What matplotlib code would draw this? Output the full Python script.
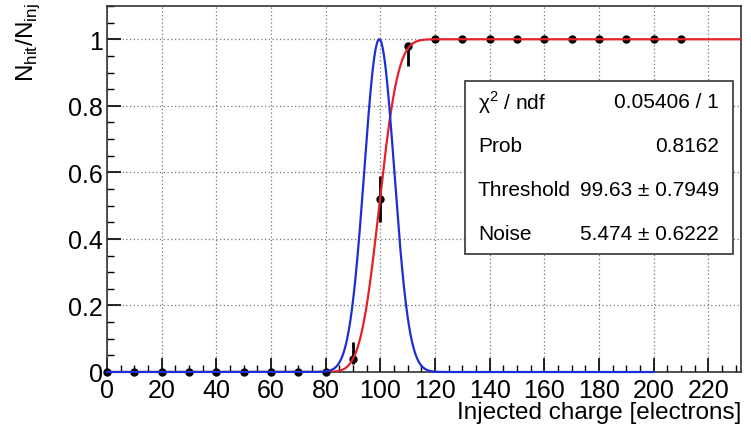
import numpy as np
import matplotlib
matplotlib.use("Agg")
import matplotlib.pyplot as plt
from matplotlib.patches import Rectangle
from matplotlib.ticker import MultipleLocator
from math import erf

plt.rcParams['font.family'] = ['Liberation Sans', 'DejaVu Sans']
plt.rcParams['mathtext.fontset'] = 'custom'
plt.rcParams['mathtext.rm'] = 'Liberation Sans'

# measured points
charge = [0, 10, 20, 30, 40, 50, 60, 70, 80, 90, 100, 110,
          120, 130, 140, 150, 160, 170, 180, 190, 200, 210]
frac = [0, 0, 0, 0, 0, 0, 0, 0, 0, 0.04, 0.52, 0.98,
        1, 1, 1, 1, 1, 1, 1, 1, 1, 1]
err_lo = [0, 0, 0, 0, 0, 0, 0, 0, 0, 0.015, 0.07, 0.06,
          0, 0, 0, 0, 0, 0, 0, 0, 0, 0]
err_hi = [0, 0, 0, 0, 0, 0, 0, 0, 0, 0.05, 0.07, 0.0,
          0, 0, 0, 0, 0, 0, 0, 0, 0, 0]

# fit result (s-curve)
threshold = 99.63
noise = 5.474
stats_names = [r"χ$^{\mathregular{2}}$ / ndf", "Prob", "Threshold", "Noise"]
stats_vals = ["0.05406 / 1", "0.8162", "99.63 ± 0.7949", "5.474 ± 0.6222"]

fig = plt.figure(figsize=(7.51, 4.27), dpi=100)
W, H = 751, 427
ax = fig.add_axes([107 / W, 1 - 373 / H, (741 - 107) / W, (373 - 7) / H])

# fit curves
xs = np.linspace(0, 232, 1200)
scurve = [0.5 * (1 + erf((x - threshold) / (np.sqrt(2) * noise))) for x in xs]
xg = np.linspace(0, 200, 1000)
gaus = np.exp(-0.5 * ((xg - threshold) / noise) ** 2)

ax.errorbar(charge, frac, yerr=[err_lo, err_hi], fmt='o', color='black',
            markersize=5, elinewidth=2, capsize=0, zorder=3, clip_on=False)
ax.plot(xs, scurve, color='#e5202a', linewidth=1.6, zorder=4)
ax.plot(xg, gaus, color='#1c2fd6', linewidth=1.6, zorder=5, clip_on=False)

ax.set_xlim(0, 232)
ax.set_ylim(0, 1.1)
ax.xaxis.set_major_locator(MultipleLocator(20))
ax.xaxis.set_minor_locator(MultipleLocator(5))
ax.yaxis.set_major_locator(MultipleLocator(0.2))
ax.yaxis.set_minor_locator(MultipleLocator(0.05))
ax.set_yticks([0, 0.2, 0.4, 0.6, 0.8, 1.0])
ax.set_yticklabels(["0", "0.2", "0.4", "0.6", "0.8", "1"])
ax.tick_params(which='major', direction='in', length=10, width=1.2,
               labelsize=18, pad=2)
ax.tick_params(which='minor', direction='in', length=5, width=1.0)
ax.tick_params(axis='x', pad=4)
ax.tick_params(axis='y', pad=3)
ax.grid(True, which='major', linestyle=(0, (1, 2)), color='#777777', linewidth=0.9)
for s in ax.spines.values():
    s.set_linewidth(1.2)
    s.set_color('#333333')

fig.text(741 / W, 1 - 419 / H, "Injected charge [electrons]", ha='right',
         va='baseline', fontsize=17.5)
fig.text(28 / W, 1 - 3 / H, r"N$_{\mathregular{hit}}$/N$_{\mathregular{inj}}$",
         rotation=90, ha='center', va='top', fontsize=17.5)

# stats box
fig.add_artist(Rectangle((465 / W, 1 - 255 / H), (733 - 465) / W, (255 - 82) / H,
                         transform=fig.transFigure, facecolor='white',
                         edgecolor='#333333', linewidth=1.2, zorder=10))
rows_y = [103, 147, 190, 234]
for name, val, yy in zip(stats_names, stats_vals, rows_y):
    fig.text(478 / W, 1 - yy / H, name, ha='left', va='center',
             fontsize=15, zorder=11)
    fig.text(719 / W, 1 - yy / H, val, ha='right', va='center',
             fontsize=15, zorder=11)

fig.savefig("out.png", dpi=100)
